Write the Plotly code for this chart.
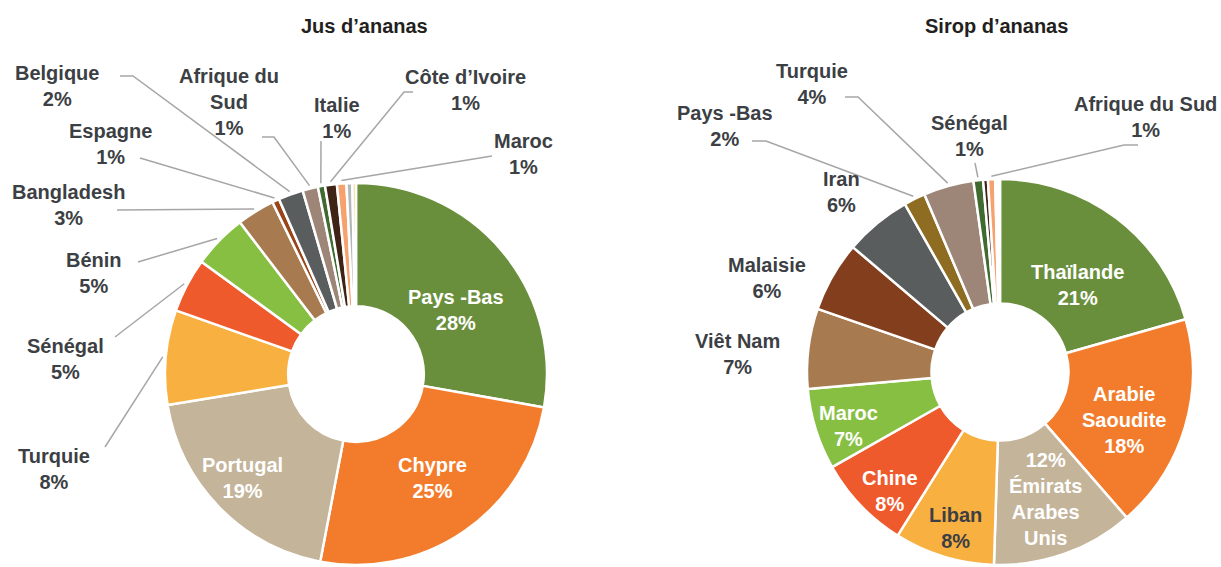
import math
import plotly.graph_objects as go

W, H = 1221, 567

# ---------------- DATA ----------------
jus_labels = ["Pays -Bas", "Chypre", "Portugal", "Turquie", "Sénégal", "Bénin", "Bangladesh",
              "Espagne", "Belgique", "Afrique du Sud", "Italie", "Côte d’Ivoire", "Maroc",
              "Autre 1", "Autre 2"]
jus_values = [27.8, 25.2, 19.4, 8.0, 4.6, 4.6, 3.2, 0.6, 2.1, 1.3, 0.6, 1.0, 0.8, 0.5, 0.3]
jus_colors = ["#6A8F3C", "#F37C2C", "#C4B49A", "#F8B040", "#EF5A2D", "#87BF43", "#A77A50",
              "#9A4519", "#595D5E", "#9D8677", "#3F6B30", "#3F2314", "#F6A26F", "#B5B8B8", "#FBD68A"]

sirop_labels = ["Thaïlande", "Arabie Saoudite", "Émirats Arabes Unis", "Liban", "Chine", "Maroc",
                "Viêt Nam", "Malaisie", "Iran", "Pays -Bas", "Turquie", "Sénégal", "Autre 1",
                "Afrique du Sud", "Autre 2"]
sirop_values = [20.6, 18.0, 11.9, 8.4, 7.9, 6.8, 6.7, 5.9, 5.6, 1.8, 4.2, 0.8, 0.4, 0.6, 0.4]
sirop_colors = ["#6A8F3C", "#F37C2C", "#C4B49A", "#F8B040", "#EF5A2D", "#87BF43", "#A77A50",
                "#833F1D", "#595D5E", "#8E6D22", "#9D8677", "#3F6B30", "#3F2314", "#F6A26F", "#FFFFFF"]

# ---------------- LAYOUT (label placement, pixels) ----------------
DARK = "#3C3F44"
LINE = "#A6A6A6"
FONT = "Liberation Sans, Arial, sans-serif"

pies = [
    dict(title="Jus d’ananas", tpos=(364, 26), cx=356, cy=374, r=191,
         labels=jus_labels, values=jus_values, colors=jus_colors,
         # name: (text template, label centre, text colour, line start, elbow)
         place={
             "Pays -Bas": ("{n}<br>{p}%", (456, 310), "white", None, None),
             "Chypre": ("{n}<br>{p}%", (432, 478), "white", None, None),
             "Portugal": ("{n}<br>{p}%", (242, 478), "white", None, None),
             "Turquie": ("{n}<br>{p}%", (54, 469), DARK, (105, 447), None),
             "Sénégal": ("{n}<br>{p}%", (65, 359), DARK, (115, 337), None),
             "Bénin": ("{n}<br>{p}%", (94, 273), DARK, (138, 262), None),
             "Bangladesh": ("{n}<br>{p}%", (68, 205), DARK, (117, 210), None),
             "Espagne": ("{n}<br>{p}%", (110, 144), DARK, (140, 158), None),
             "Belgique": ("{n}<br>{p}%", (57, 86), DARK, (120, 76), (133, 76)),
             "Afrique du Sud": ("Afrique du<br>Sud<br>{p}%", (229, 102), DARK, (262, 137), (274, 137)),
             "Italie": ("{n}<br>{p}%", (337, 118), DARK, (321, 141), None),
             "Côte d’Ivoire": ("{n}<br>{p}%", (465, 90), DARK, (413, 92), (404, 92)),
             "Maroc": ("{n}<br>{p}%", (523, 154), DARK, (492, 156), None),
         }),
    dict(title="Sirop d’ananas", tpos=(996, 26), cx=1000, cy=372, r=193,
         labels=sirop_labels, values=sirop_values, colors=sirop_colors,
         place={
             "Thaïlande": ("{n}<br>{p}%", (1077, 285), "white", None, None),
             "Arabie Saoudite": ("Arabie<br>Saoudite<br>{p}%", (1124, 420), "white", None, None),
             "Émirats Arabes Unis": ("{p}%<br>Émirats<br>Arabes<br>Unis", (1045, 499), "white", None, None),
             "Liban": ("{n}<br>{p}%", (955, 528), DARK, None, None),
             "Chine": ("{n}<br>{p}%", (890, 491), "white", None, None),
             "Maroc": ("{n}<br>{p}%", (848, 426), "white", None, None),
             "Viêt Nam": ("{n}<br>{p}%", (737, 354), DARK, None, None),
             "Malaisie": ("{n}<br>{p}%", (767, 278), DARK, None, None),
             "Iran": ("{n}<br>{p}%", (841, 192), DARK, None, None),
             "Pays -Bas": ("{n}<br>{p}%", (725, 126), DARK, (752, 141), (766, 141)),
             "Turquie": ("{n}<br>{p}%", (812, 84), DARK, (845, 97), (858, 97)),
             "Sénégal": ("{n}<br>{p}%", (969, 136), DARK, (975, 163), None),
             "Afrique du Sud": ("{n}<br>{p}%", (1145, 117), DARK, (1138, 145), (1124, 145)),
         }),
]


def P(x, y):
    return x / W, 1 - y / H


fig = go.Figure()
annotations = []
shapes = []

for pie in pies:
    cx, cy, r = pie["cx"], pie["cy"], pie["r"]
    fig.add_trace(go.Pie(
        labels=pie["labels"], values=pie["values"],
        marker=dict(colors=pie["colors"], line=dict(color="white", width=2.5)),
        hole=0.355, sort=False, direction="clockwise", rotation=0,
        textinfo="none", hoverinfo="skip", showlegend=False,
        domain=dict(x=[(cx - r) / W, (cx + r) / W], y=[max(0, 1 - (cy + r) / H), 1 - (cy - r) / H]),
    ))
    tx, ty = P(*pie["tpos"])
    annotations.append(dict(x=tx, y=ty, xref="paper", yref="paper", text=pie["title"],
                            showarrow=False, xanchor="center", yanchor="middle",
                            font=dict(family=FONT, size=20, color="#231F20", weight=700)))
    total = sum(pie["values"])
    cum = 0.0
    for name, v in zip(pie["labels"], pie["values"]):
        mid = (cum + v / 2) / total
        cum += v
        if name not in pie["place"]:
            continue
        tmpl, (lx, ly), col, start, elbow = pie["place"][name]
        pct = int(v / total * 100 + 0.5 + 1e-9)
        ax, ay = P(lx, ly)
        annotations.append(dict(x=ax, y=ay, xref="paper", yref="paper",
                                text=tmpl.format(n=name, p=pct), showarrow=False,
                                xanchor="center", yanchor="middle", align="center",
                                font=dict(family=FONT, size=20, color=col, weight=700)))
        if start is not None:
            ang = 2 * math.pi * mid
            ex = cx + (r + 3) * math.sin(ang)
            ey = cy - (r + 3) * math.cos(ang)
            pts = [start] + ([elbow] if elbow else []) + [(ex, ey)]
            path = "M " + " L ".join(f"{P(px, py)[0]:.5f},{P(px, py)[1]:.5f}" for px, py in pts)
            shapes.append(dict(type="path", path=path, xref="paper", yref="paper",
                               line=dict(color=LINE, width=1.5)))

fig.update_layout(
    width=W, height=H, margin=dict(l=0, r=0, t=0, b=0),
    paper_bgcolor="white", plot_bgcolor="white",
    annotations=annotations, shapes=shapes,
)

fig.write_html("out.html", config={"displayModeBar": False},
               post_script="document.body.style.margin='0';document.body.style.overflow='hidden';")
